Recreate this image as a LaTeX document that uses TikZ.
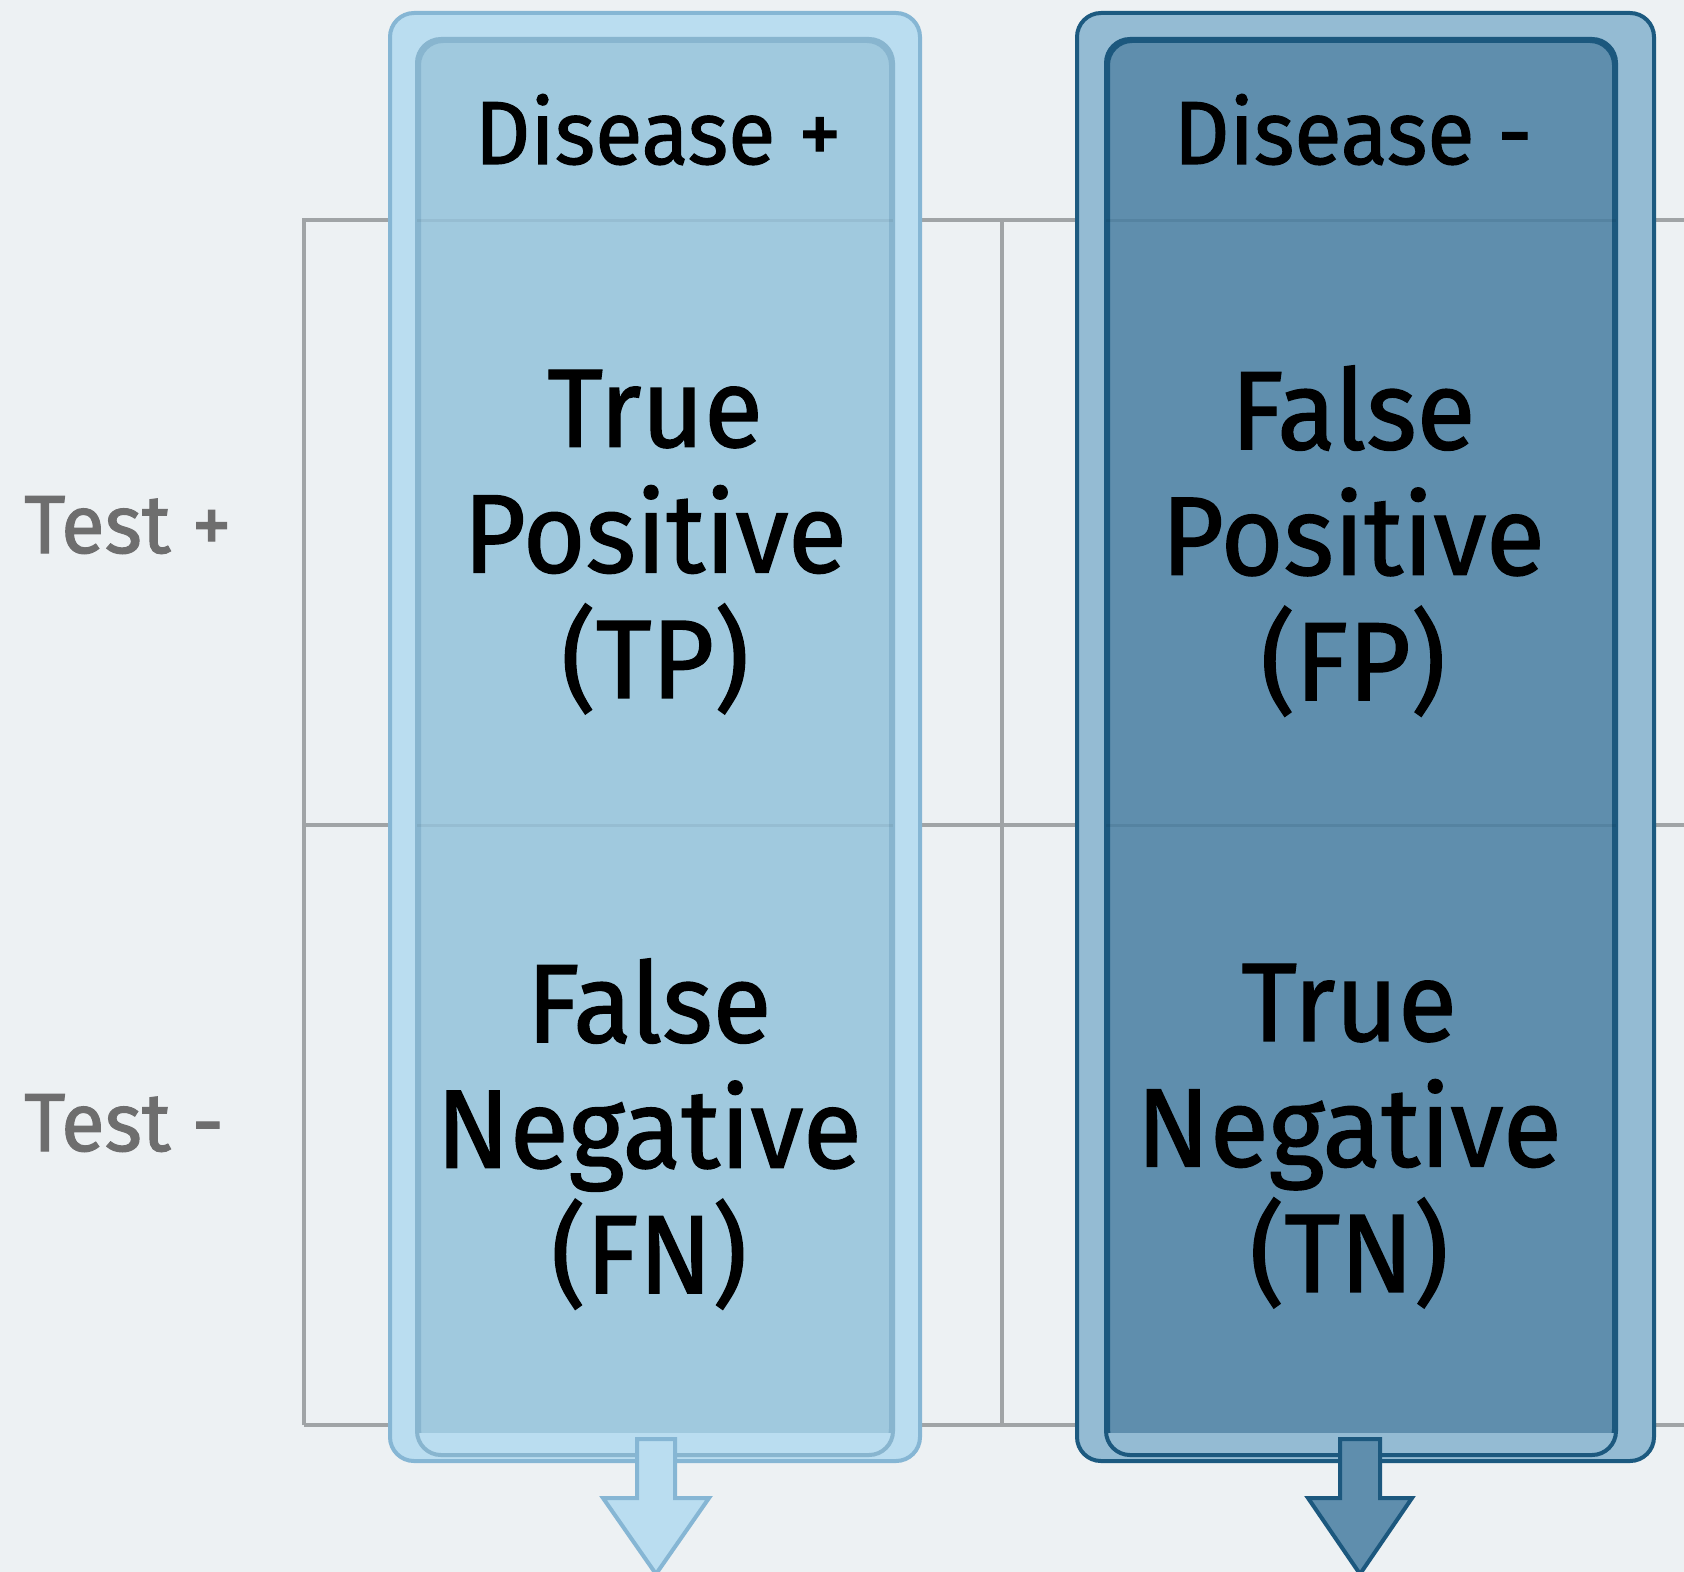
\documentclass[tikz,border=0pt]{standalone}
\usepackage{fontspec}
\setmainfont{Fira Sans}[FakeStretch=0.965,FakeBold=1.2]
\definecolor{bg}{HTML}{EDF1F3}
\definecolor{gridgray}{HTML}{A0A4A6}
\definecolor{posOuter}{HTML}{BADDF0}
\definecolor{posOuterB}{HTML}{86B6D4}
\definecolor{posInner}{HTML}{A0C9DE}
\definecolor{posInnerB}{HTML}{88B5CF}
\definecolor{negOuter}{HTML}{94BBD3}
\definecolor{negOuterB}{HTML}{1C5A80}
\definecolor{negInner}{HTML}{5F8EAD}
\definecolor{negInnerB}{HTML}{1C587E}
\definecolor{testgray}{HTML}{6E6E6E}
\begin{document}
\begin{tikzpicture}[x=1bp,y=-1bp,
  gridline/.style={draw=gridgray,line width=4bp},
  colbox/.style={rectangle,rounded corners=24bp,inner sep=0pt,line width=4bp},
  headtext/.style={font=\fontsize{90}{100}\selectfont,text=black,anchor=base,inner sep=0pt},
  celltext/.style={font=\fontsize{112}{126}\selectfont,align=center,text=black,inner sep=0pt},
  sidetext/.style={font=\fontsize{83}{90}\selectfont,text=testgray,anchor=base west,inner sep=0pt},
  seam/.style={line width=3bp,opacity=0.12},
  arrowshape/.style={line width=4bp,line join=miter}]
\fill[bg] (0,0) rectangle (1684,1572);
\useasboundingbox (0,0) rectangle (1684,1572);

% grid of the 2x2 table
\coordinate (gTL) at (304,220);  \coordinate (gTR) at (1684,220);
\coordinate (gML) at (304,825);  \coordinate (gMR) at (1684,825);
\coordinate (gBL) at (304,1425); \coordinate (gBR) at (1684,1425);
\coordinate (gTM) at (1002,220); \coordinate (gBM) at (1002,1425);
\draw[gridline] (gBL) -- (gTL) -- (gTR);
\draw[gridline] (gML) -- (gMR);
\draw[gridline] (gBL) -- (gBR);
\draw[gridline] (gTM) -- (gBM);

% column "Disease +"
\node[colbox,fill=posOuter,draw=posOuterB,minimum width=530bp,minimum height=1448bp] (colL) at (655,737) {};
\node[colbox,fill=posInner,draw=posInnerB,minimum width=472bp,minimum height=1412bp] (inL) at (655,747) {};
\begin{scope}
  \clip[rounded corners=24bp] (inL.south west) rectangle (inL.north east);
  \fill[posOuter] (inL.south west) rectangle ([yshift=22bp]inL.south east);
\end{scope}
\draw[posInnerB,line width=4bp,rounded corners=24bp] (inL.south west) rectangle (inL.north east);
\draw[seam,draw=posInnerB!60!black] (inL.west |- gTL) -- (inL.east |- gTL);
\draw[seam,draw=posInnerB!60!black] (inL.west |- gML) -- (inL.east |- gML);

% column "Disease -"
\node[colbox,fill=negOuter,draw=negOuterB,minimum width=577bp,minimum height=1448bp] (colR) at (1365.5,737) {};
\node[colbox,fill=negInner,draw=negInnerB,minimum width=506bp,minimum height=1412bp] (inR) at (1361,747) {};
\begin{scope}
  \clip[rounded corners=24bp] (inR.south west) rectangle (inR.north east);
  \fill[negOuter] (inR.south west) rectangle ([yshift=22bp]inR.south east);
\end{scope}
\draw[negInnerB,line width=4bp,rounded corners=24bp] (inR.south west) rectangle (inR.north east);
\draw[seam,draw=negInnerB!60!black] (inR.west |- gTL) -- (inR.east |- gTL);
\draw[seam,draw=negInnerB!60!black] (inR.west |- gML) -- (inR.east |- gML);

% downward arrows under the columns
\coordinate (aL) at (656,1439);
\coordinate (aR) at (1360,1439);
\draw[arrowshape,fill=posOuter,draw=posOuterB]
  ([xshift=-19bp]aL) -- ++(0,59) -- ++(-34,0) -- ++(53,76) -- ++(53,-76) -- ++(-34,0) -- ++(0,-59) -- cycle;
\draw[arrowshape,fill=negInner,draw=negInnerB]
  ([xshift=-20bp]aR) -- ++(0,59) -- ++(-32,0) -- ++(52,76) -- ++(52,-76) -- ++(-32,0) -- ++(0,-59) -- cycle;

% headings
\node[headtext] (hL) at (658,164) {Disease +};
\node[headtext] (hR) at (1353,164) {Disease -};

% row labels
\node[sidetext] (tPos) at (24,553) {Test +};
\node[sidetext] (tNeg) at (24,1151) {Test -};

% cells
\node[celltext] (tp) at (655,542) {True\\Positive\\(TP)};
\node[celltext] (fp) at (1353,541) {False\\Positive\\(FP)};
\node[celltext] (fn) at (649,1134) {False\\Negative\\(FN)};
\node[celltext] (tn) at (1349,1136) {True\\Negative\\(TN)};
\end{tikzpicture}
\end{document}
